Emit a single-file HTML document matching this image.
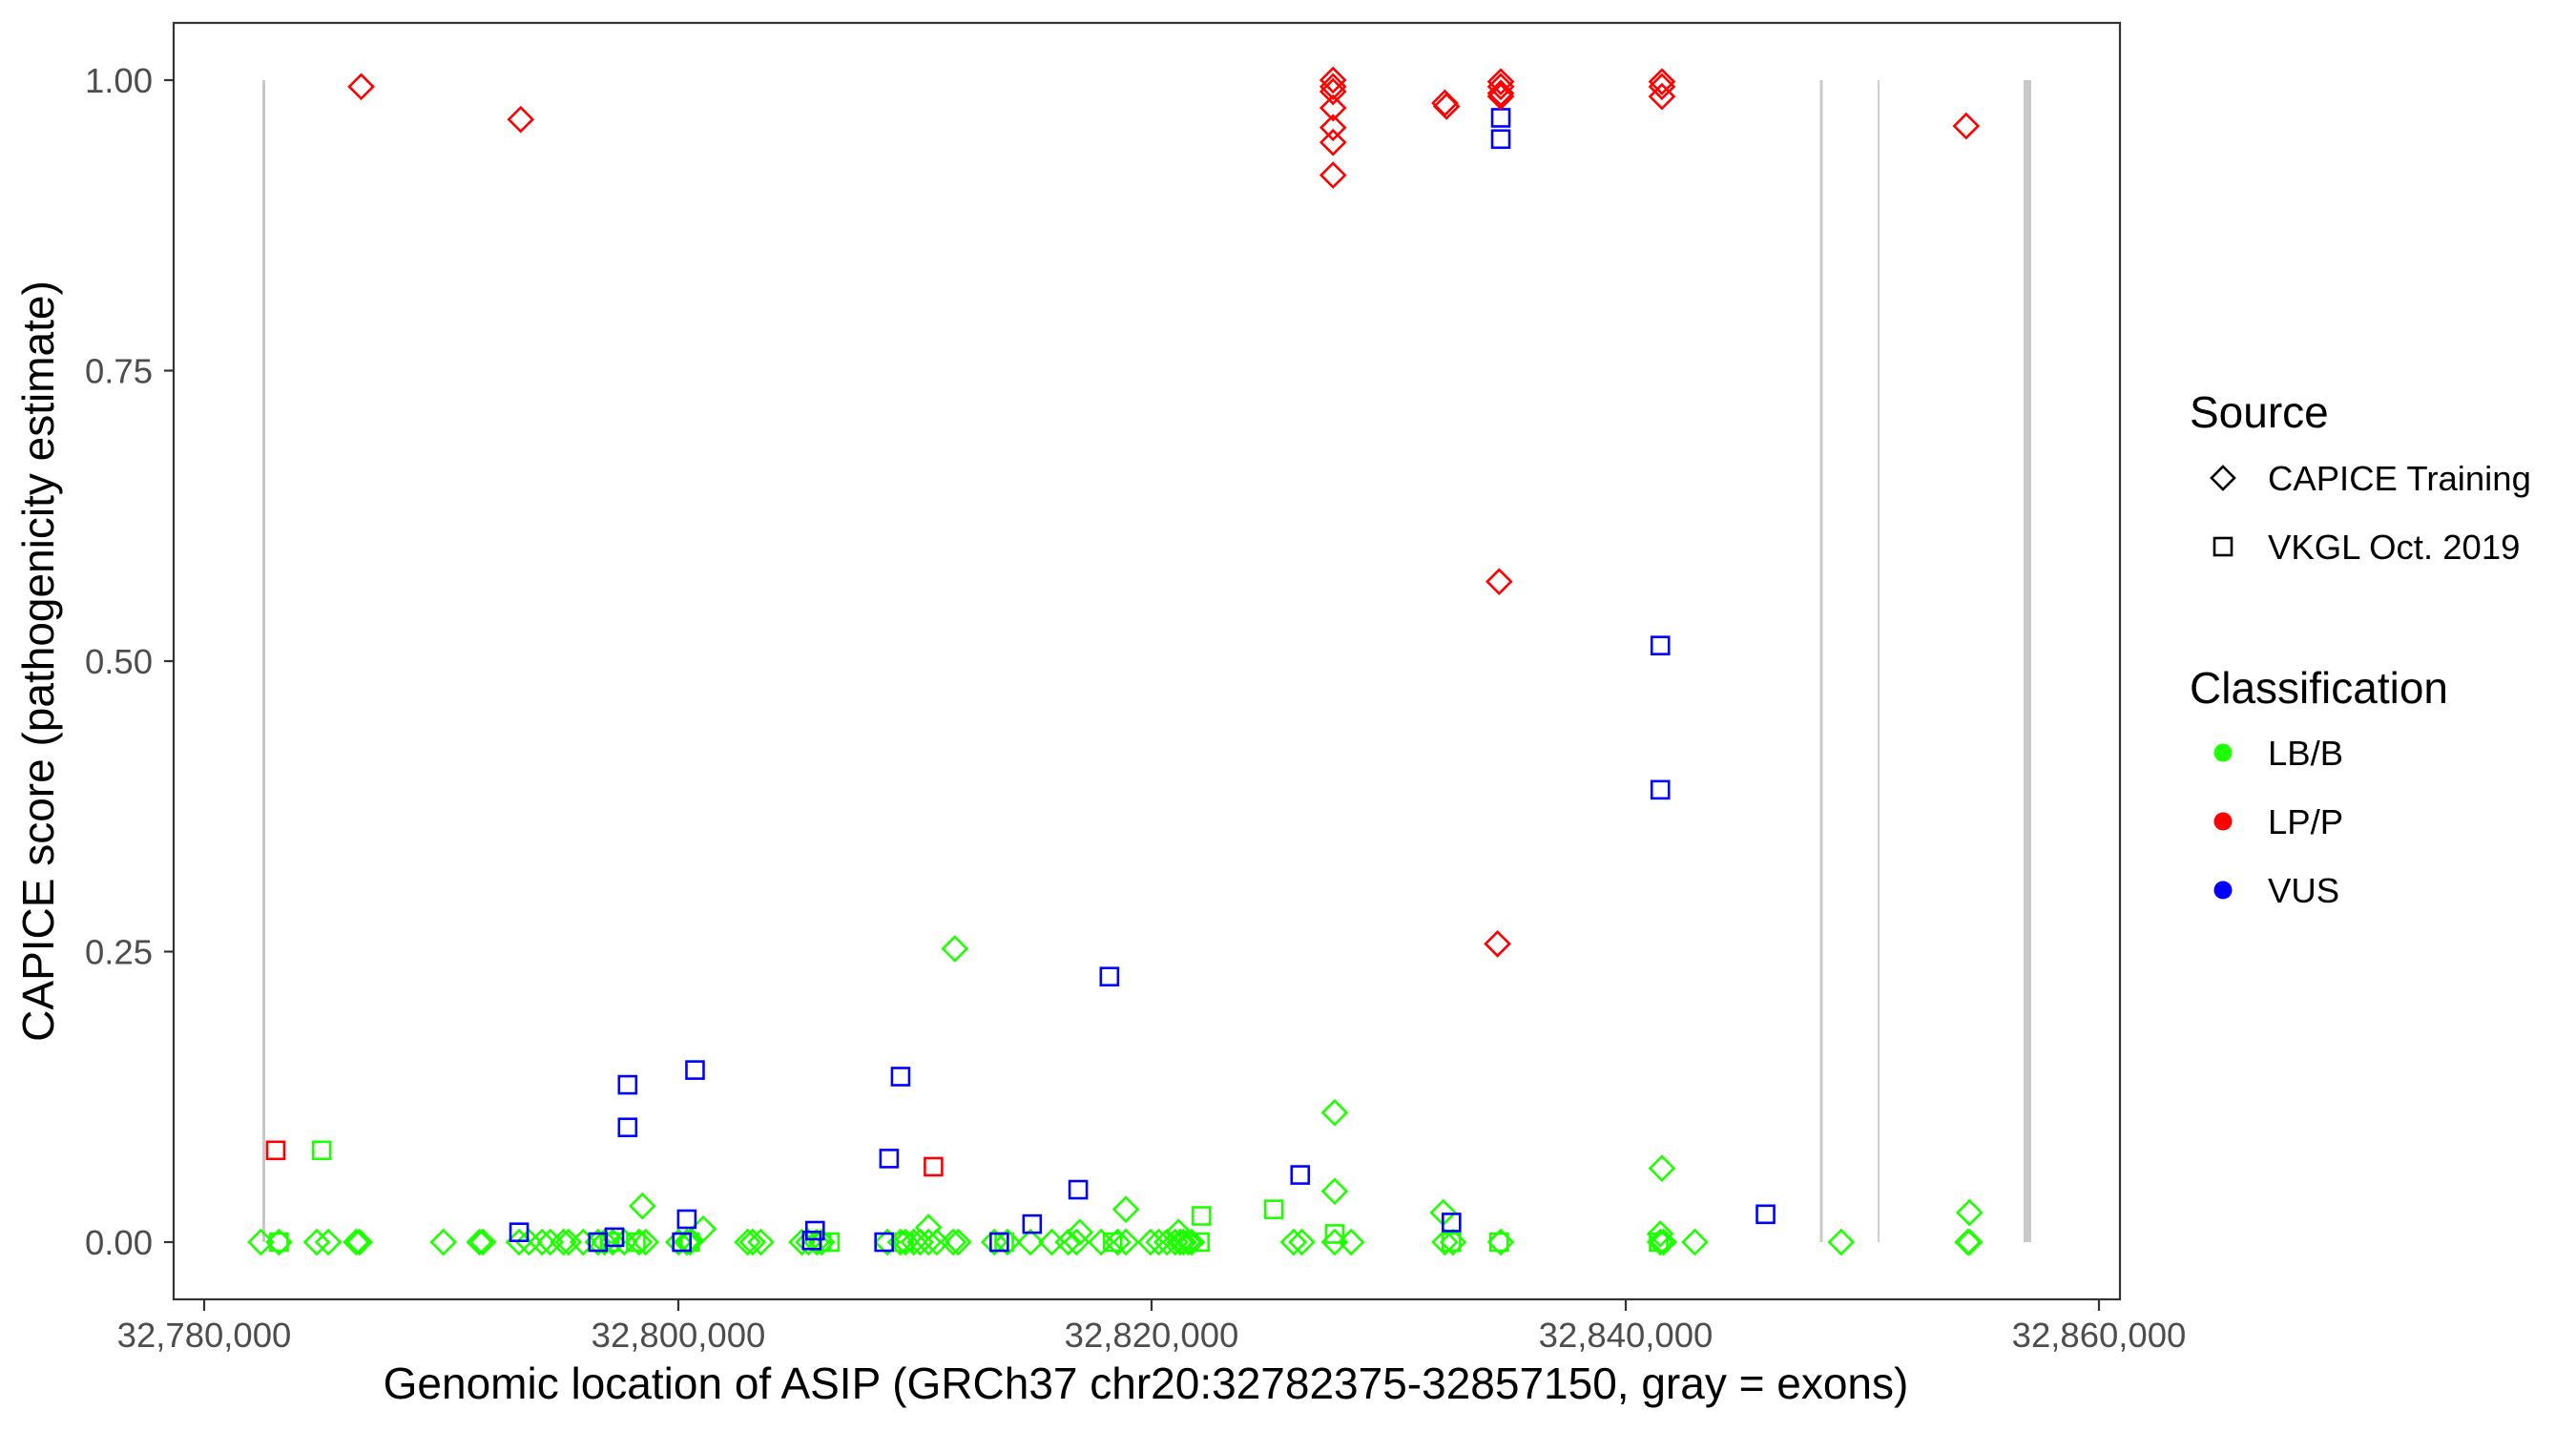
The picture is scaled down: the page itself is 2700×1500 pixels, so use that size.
<!DOCTYPE html>
<html><head><meta charset="utf-8">
<style>
html,body{margin:0;padding:0;background:#fff;}
svg{display:block;font-family:"Liberation Sans",Arial,sans-serif;}
</style></head>
<body>
<svg id="s" width="2700" height="1500" xmlns="http://www.w3.org/2000/svg">
<rect width="2700" height="1500" fill="#fff"/>
<rect x="275" y="84" width="3" height="1218" fill="#c8c8c8"/>
<rect x="1907.5" y="84" width="3" height="1218" fill="#c8c8c8"/>
<rect x="1968" y="84" width="2" height="1218" fill="#cfcfcf"/>
<rect x="2121" y="84" width="8" height="1218" fill="#c8c8c8"/>
<g id="pts" fill="none" stroke-width="2.6"></g>
<rect x="182" y="24" width="2040" height="1338" fill="none" stroke="#333" stroke-width="2.2"/>
<g stroke="#333" stroke-width="2.2">
<line x1="172" x2="182" y1="84" y2="84"/><line x1="172" x2="182" y1="388.5" y2="388.5"/>
<line x1="172" x2="182" y1="693" y2="693"/><line x1="172" x2="182" y1="997.5" y2="997.5"/>
<line x1="172" x2="182" y1="1302" y2="1302"/>
<line x1="214" x2="214" y1="1362" y2="1374"/><line x1="711" x2="711" y1="1362" y2="1374"/>
<line x1="1207" x2="1207" y1="1362" y2="1374"/><line x1="1704" x2="1704" y1="1362" y2="1374"/>
<line x1="2200" x2="2200" y1="1362" y2="1374"/>
</g>
<g fill="#4d4d4d" font-size="36.5" text-anchor="end">
<text x="160" y="97">1.00</text><text x="160" y="401.5">0.75</text>
<text x="160" y="706">0.50</text><text x="160" y="1010.5">0.25</text>
<text x="160" y="1315">0.00</text>
</g>
<g fill="#4d4d4d" font-size="36.5" text-anchor="middle">
<text x="214" y="1412">32,780,000</text><text x="711" y="1412">32,800,000</text>
<text x="1207" y="1412">32,820,000</text><text x="1704" y="1412">32,840,000</text>
<text x="2200" y="1412">32,860,000</text>
</g>
<text x="1201" y="1466" font-size="46" text-anchor="middle" fill="#000">Genomic location of ASIP (GRCh37 chr20:32782375-32857150, gray = exons)</text>
<text transform="translate(56,693) rotate(-90)" font-size="46" text-anchor="middle" fill="#000">CAPICE score (pathogenicity estimate)</text>
<text x="2295" y="448" font-size="46" fill="#000">Source</text>
<path d="M2330,489 L2342,501 L2330,513 L2318,501 Z" fill="none" stroke="#000" stroke-width="2.6"/>
<rect x="2321" y="564" width="18" height="18" fill="none" stroke="#000" stroke-width="2.6"/>
<text x="2377" y="514" font-size="36.5" fill="#000">CAPICE Training</text>
<text x="2377" y="586" font-size="36.5" fill="#000">VKGL Oct. 2019</text>
<text x="2295" y="737" font-size="46" fill="#000">Classification</text>
<circle cx="2330" cy="789" r="9.5" fill="#1eff00"/>
<circle cx="2330" cy="861" r="9.5" fill="#ff0000"/>
<circle cx="2330" cy="933" r="9.5" fill="#0000ff"/>
<text x="2377" y="802" font-size="36.5" fill="#000">LB/B</text>
<text x="2377" y="874" font-size="36.5" fill="#000">LP/P</text>
<text x="2377" y="946" font-size="36.5" fill="#000">VUS</text>
</svg>
<script>
var R="#ff0000",B="#0000ff",G="#1eff00";
var d=[];
function D(c,arr){arr.forEach(function(p){d.push(["d",c,p[0],p[1]]);});}
function S(c,arr){arr.forEach(function(p){d.push(["s",c,p[0],p[1]]);});}
var gz=[159,170,193,200,217,219,270,292,294,316,322,330,335,343,346,355,364,368,373,380,389,393,413,418,420,455,458,463,488,492,497,500,540,548,551,556,560,565,570,580,583,605,613,627,640,650,655,670,680,685,700,705,710,715,718,720,723,725,787,792,812,822,879,884,913,1010,1012,1031,1120,1197,1198];
D(G,gz.map(function(x){return [x,757];}));
D(G,[[581,578],[812,678],[391,735],[1011,712],[812,726],[685,737],[878,739],[1198,739],[565,748],[428,749],[657,751],[717,751],[1010,752]]);
S(G,[[196,701],[812,752],[775,737],[731,741],[170,757],[371,757],[387,757],[420,757],[500,757],[505,757],[550,757],[611,757],[677,757],[730,757],[912,757],[1009,757],[883,757]]);
S(B,[[913,71],[913,84],[1010,393],[1010,481],[675,595],[548,656],[423,652],[382,661],[382,687],[541,706],[791,716],[656,725],[1074,740],[883,745],[628,746],[418,743],[316,751],[374,754],[364,757],[496,750],[494,756],[538,757],[608,757],[415,757]]);
S(R,[[168,701],[568,711]]);
D(R,[[220,52],[317,72],[811,48],[811,52],[811,55],[811,65],[811,77],[811,86],[811,106],[879,62],[880,64],[913,49],[913,52],[913,56],[913,58],[1011,49],[1011,52],[1011,58],[1196,76],[912,354],[911,575]]);
var g=document.getElementById("pts"),ns="http://www.w3.org/2000/svg";
d.forEach(function(p){
  var x=-0.6+p[2]*1.7236,y=1.5+p[3]*1.718,e;
  if(p[0]=="d"){e=document.createElementNS(ns,"path");
    e.setAttribute("d","M"+x+","+(y-12.5)+" L"+(x+12.5)+","+y+" L"+x+","+(y+12.5)+" L"+(x-12.5)+","+y+" Z");}
  else{e=document.createElementNS(ns,"rect");e.setAttribute("x",x-9);e.setAttribute("y",y-9);
    e.setAttribute("width",18);e.setAttribute("height",18);}
  e.setAttribute("stroke",p[1]);g.appendChild(e);
});
</script>
</body></html>
